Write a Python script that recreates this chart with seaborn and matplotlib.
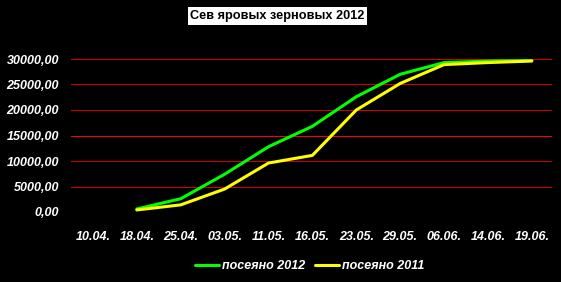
import numpy as np
import pandas as pd
import matplotlib
matplotlib.use("Agg")
import matplotlib.pyplot as plt
import seaborn as sns

dates = ["10.04.", "18.04.", "25.04.", "03.05.", "11.05.", "16.05.",
         "23.05.", "29.05.", "06.06.", "14.06.", "19.06."]
sown_2012 = [np.nan, 600, 2600, 7400, 12800, 16800, 22600, 27000, 29300, 29600, 29700]
sown_2011 = [np.nan, 400, 1400, 4500, 9600, 11100, 20000, 25200, 28900, 29300, 29600]
series_names = ["посеяно 2012", "посеяно 2011"]
series_colors = ["#00FF00", "#FFFF00"]
y_ticks = [0, 5000, 10000, 15000, 20000, 25000, 30000]
highlight_value = 15000
title = "Сев яровых зерновых 2012"

idx = np.arange(len(dates))
df = pd.concat([
    pd.DataFrame({"x": idx, "value": sown_2012, "series": series_names[0]}),
    pd.DataFrame({"x": idx, "value": sown_2011, "series": series_names[1]}),
]).dropna()

sns.set_theme(style="dark")
fig = plt.figure(figsize=(5.61, 2.82), dpi=100, facecolor="black")
ax = fig.add_axes([71/561, 1-212/282, (552-71)/561, (212-59)/282])
ax.set_facecolor("black")

for v in y_ticks[1:]:
    ax.axhline(v, color="#FF0000" if v == highlight_value else "#D40000",
               lw=0.55, antialiased=False, zorder=1)

sns.lineplot(data=df, x="x", y="value", hue="series", hue_order=series_names,
             palette=series_colors, lw=2.2, ax=ax, legend=False, zorder=3)

ax.set_xlim(-0.5, 10.46)
ax.set_ylim(0, 30000)
ax.grid(False)
for s in ax.spines.values():
    s.set_visible(False)
ax.set_xlabel("")
ax.set_ylabel("")
ax.set_yticks(y_ticks)
ax.set_yticklabels([f"{v:.2f}".replace(".", ",") for v in y_ticks],
                   family="Liberation Sans", fontweight="bold", fontstyle="italic",
                   fontsize=9, color="white")
ax.set_xticks(idx)
ax.set_xticklabels(dates, family="Liberation Sans", fontweight="bold",
                   fontstyle="italic", fontsize=9, color="white")
ax.tick_params(axis="y", length=0, pad=8.6)
ax.tick_params(axis="x", length=0, pad=14)

fig.text(277.5/561, 1-16/282, title, ha="center", va="center",
         family="Liberation Sans", fontweight="bold", fontsize=9.2, color="black",
         bbox=dict(boxstyle="square,pad=0.2", fc="white", ec="none"))

handles = [plt.Line2D([], [], color=c, lw=2.2) for c in series_colors]
leg = fig.legend(handles, series_names, loc="center", ncol=2,
                 bbox_to_anchor=(310/561, 1-266/282), frameon=False,
                 handlelength=1.9, handletextpad=0.25, columnspacing=0.8,
                 prop=dict(family="Liberation Sans", weight="bold", style="italic", size=9))
for t in leg.get_texts():
    t.set_color("white")

fig.savefig("out.png", dpi=100, facecolor="black")
